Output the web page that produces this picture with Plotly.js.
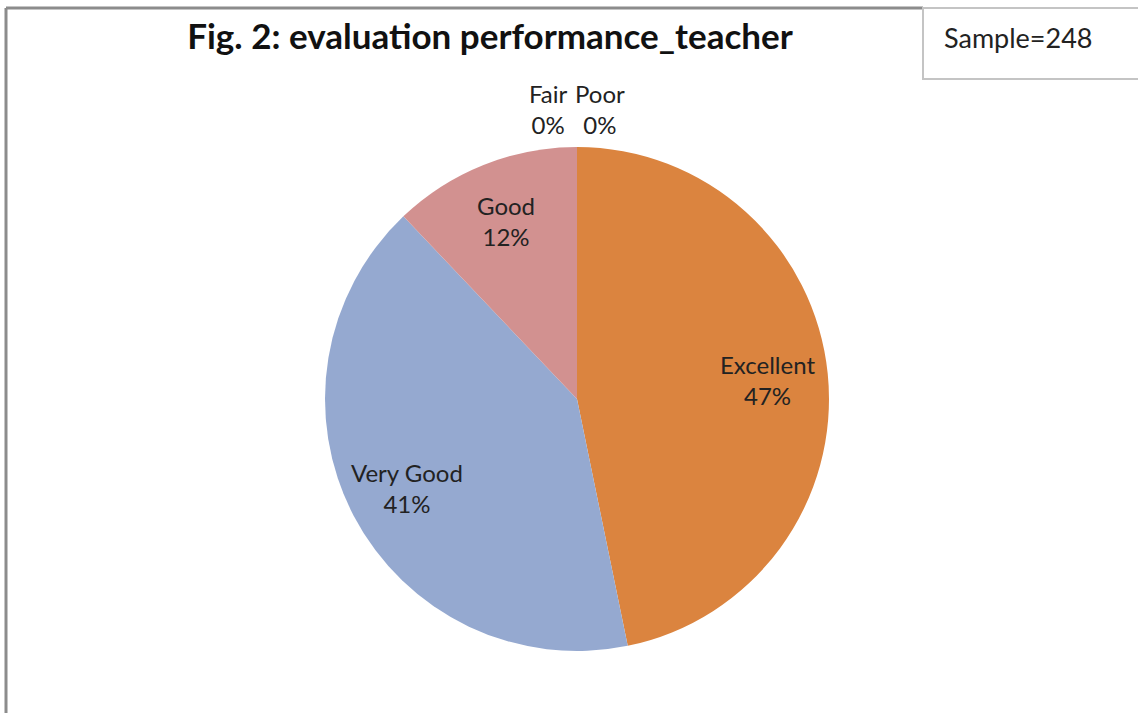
<!DOCTYPE html>
<html>
<head>
<meta charset="utf-8">
<script src="https://cdn.plot.ly/plotly-3.0.1.min.js"></script>
<style>
  html, body { margin: 0; padding: 0; background: #fff; }
  #chart { width: 1138px; height: 713px; }
</style>
</head>
<body>
<div id="chart"></div>
<script>
// ratings and number of answers (sample = 248)
const ratings = ['Excellent', 'Very Good', 'Good', 'Fair', 'Poor'];
const counts = [116, 102, 30, 0, 0];
const sliceColors = ['#DB843F', '#95A9D0', '#D29190', '#A5C26B', '#8A73A8'];
const sampleSize = 248;

const W = 1138, H = 713;
const fontFam = 'Lato, "Open Sans", sans-serif';
const labelFont = { family: fontFam, size: 24, color: '#222' };

// pie placement in pixels
const cx = 577, cy = 399, R = 252;

// data labels sit at ~3/4 radius on the middle of each slice (like excel best fit);
// zero slices are not drawn by plotly, so their labels are put above the pie
const total = counts.reduce((a, b) => a + b, 0);
const zeroX = { Fair: 548, Poor: 600 };
const labelNotes = [];
let cum = 0;
ratings.forEach((r, i) => {
    const frac = counts[i] / total;
    const pct = Math.round(frac * 100) + '%';
    if (counts[i] === 0) {
        labelNotes.push({
            xref: 'paper', yref: 'paper',
            x: zeroX[r] / W, y: 1 - 109 / H,
            xanchor: 'center', yanchor: 'middle',
            text: r + '<br>' + pct,
            showarrow: false, font: labelFont, align: 'center'
        });
    } else {
        const mid = (cum + frac / 2) * 2 * Math.PI;
        const px = cx + 0.76 * R * Math.sin(mid);
        const py = cy - 0.76 * R * Math.cos(mid);
        labelNotes.push({
            xref: 'paper', yref: 'paper',
            x: px / W, y: 1 - py / H,
            xanchor: 'center', yanchor: 'middle',
            text: r + '<br>' + pct,
            showarrow: false, font: labelFont, align: 'center'
        });
    }
    cum += frac;
});

const trace = {
    type: 'pie',
    labels: ratings,
    values: counts,
    sort: false,
    direction: 'clockwise',
    rotation: 0,
    marker: { colors: sliceColors, line: { width: 0 } },
    textinfo: 'none',
    hoverinfo: 'label+value+percent',
    showlegend: false,
    domain: { x: [(cx - R) / W, (cx + R) / W], y: [(H - cy - R) / H, (H - cy + R) / H] }
};

const layout = {
    width: W,
    height: H,
    margin: { l: 0, r: 0, t: 0, b: 0 },
    paper_bgcolor: '#fff',
    title: {
        text: '<b>Fig. 2: evaluation performance_teacher</b>',
        font: { family: fontFam, size: 35, color: '#111' },
        x: 490 / W, xanchor: 'center',
        y: 1 - 37 / H, yanchor: 'middle'
    },
    shapes: [
        // chart frame (top and left edges)
        { type: 'line', xref: 'paper', yref: 'paper', x0: 6 / W, x1: 923 / W, y0: 1 - 8 / H, y1: 1 - 8 / H,
          line: { color: '#8c8c8c', width: 3 } },
        { type: 'line', xref: 'paper', yref: 'paper', x0: 6 / W, x1: 6 / W, y0: 1 - 8 / H, y1: 0,
          line: { color: '#8c8c8c', width: 3 } },
        // sample box
        { type: 'rect', xref: 'paper', yref: 'paper', x0: 923 / W, x1: 1145 / W, y0: 1 - 8 / H, y1: 1 - 79 / H,
          line: { color: '#c4c4c4', width: 2 }, fillcolor: '#fff' }
    ],
    annotations: labelNotes.concat([{
        xref: 'paper', yref: 'paper',
        x: 942 / W, y: 1 - 38 / H,
        xanchor: 'left', yanchor: 'middle',
        text: 'Sample=' + sampleSize,
        showarrow: false,
        font: { family: fontFam, size: 27, color: '#222' }
    }])
};

Plotly.newPlot('chart', [trace], layout, { displayModeBar: false, staticPlot: true });
</script>
</body>
</html>
